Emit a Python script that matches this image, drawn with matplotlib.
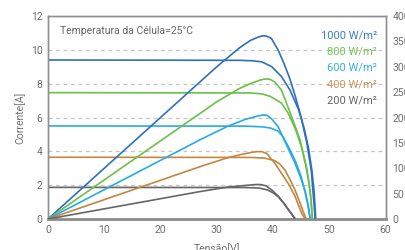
import matplotlib
matplotlib.use("Agg")
import matplotlib.pyplot as plt

plt.rcParams['font.family'] = ['Roboto', 'DejaVu Sans']

# ---- data ----
irradiance_labels = ["1000 W/m²", "800 W/m²", "600 W/m²", "400 W/m²", "200 W/m²"]

# I-V curves (V, A)
iv_1000_v = [0, 34, 36.5, 38, 39.75, 41.5, 43, 44.5, 45.5, 46.3, 46.9, 47.3, 47.6]
iv_1000_i = [9.4, 9.38, 9.35, 9.29, 9.01, 8.42, 7.63, 6.5, 5.4, 4.2, 2.9, 1.6, 0]
iv_800_v = [0, 36, 38, 39.5, 41.5, 42.7, 44, 45, 45.8, 46.4, 46.8, 47.0]
iv_800_i = [7.47, 7.45, 7.4, 7.25, 6.85, 6.25, 5.3, 4.3, 3.2, 2.1, 1.0, 0]
iv_600_v = [0, 35, 38, 39.5, 40.9, 41.8, 42.7, 44, 45, 45.7, 46.2, 46.6]
iv_600_i = [5.5, 5.49, 5.45, 5.38, 5.2, 4.85, 4.3, 3.4, 2.5, 1.6, 0.8, 0]
iv_400_v = [0, 36, 38.5, 40.3, 41.2, 42.1, 43.0, 43.9, 44.8, 45.4, 45.9]
iv_400_i = [3.65, 3.64, 3.6, 3.45, 3.25, 2.9, 2.35, 1.72, 0.95, 0.4, 0]
iv_200_v = [0, 35, 37.5, 39, 40, 40.9, 42, 42.7, 43.5, 44.0]
iv_200_i = [1.87, 1.86, 1.83, 1.72, 1.55, 1.32, 0.9, 0.55, 0.2, 0]

# P-V curves (V, W)
pv_1000_v = [0, 30, 34, 36, 37.5, 38.2, 38.8, 39.7, 40.9, 42, 43, 44, 45, 46, 46.8, 47.5]
pv_1000_p = [0, 300, 337, 352, 359, 361, 360.5, 356, 333, 305, 276, 240, 200, 150, 95, 0]
pv_800_v = [0, 30, 34, 36, 37.8, 38.6, 39.4, 40.3, 41.5, 43.3, 44.8, 46, 46.6, 47.0]
pv_800_p = [0, 231, 257, 267, 274, 276, 275.5, 270, 254, 202, 156, 100, 55, 0]
pv_600_v = [0, 27, 32, 35, 37.3, 38.2, 38.9, 39.7, 40.9, 42.4, 43.7, 44.8, 45.7, 46.3, 46.6]
pv_600_p = [0, 156, 183, 196, 203, 205, 204.5, 198, 182, 146, 115, 85, 55, 25, 0]
pv_400_v = [0, 27, 32, 34.5, 36.3, 37.4, 38.1, 38.9, 40.3, 41.5, 42.7, 43.9, 45.1, 45.7]
pv_400_p = [0, 103, 121, 127.5, 131.5, 133, 132.5, 129, 110, 90, 70, 45, 11, 0]
pv_200_v = [0, 27, 32, 35, 36.5, 37.2, 37.9, 38.7, 39.8, 41, 42.1, 43.2, 43.9]
pv_200_p = [0, 54, 63, 66, 67.5, 68, 67.7, 65.5, 57, 44, 28, 12, 0]

left_ticks = [0, 2, 4, 6, 8, 10, 12]
right_ticks = [0, 50, 100, 150, 200, 250, 300, 350, 400]
x_ticks = [0, 10, 20, 30, 40, 50, 60]

line_colors = ["#2f6fbf", "#6cc04a", "#29abe2", "#c28740", "#666666"]
text_colors = ["#3d7cc9", "#78c454", "#35b0e6", "#c8965a", "#666666"]

# ---- figure ----
fig = plt.figure(figsize=(4.05, 2.5), dpi=100)
ax = fig.add_axes([0.1185, 0.124, 0.8335, 0.812])
ax2 = ax.twinx()

ivs = [(iv_1000_v, iv_1000_i), (iv_800_v, iv_800_i), (iv_600_v, iv_600_i),
       (iv_400_v, iv_400_i), (iv_200_v, iv_200_i)]
pvs = [(pv_1000_v, pv_1000_p), (pv_800_v, pv_800_p), (pv_600_v, pv_600_p),
       (pv_400_v, pv_400_p), (pv_200_v, pv_200_p)]

for (v, i), c in zip(ivs, line_colors):
    ax.plot(v, i, color=c, lw=1.2, solid_capstyle='butt', zorder=3)
for (v, p), c in zip(pvs, line_colors):
    ax2.plot(v, p, color=c, lw=1.2, solid_capstyle='butt', zorder=3)

ax.set_xlim(0, 60)
ax.set_ylim(0, 12)
ax2.set_ylim(0, 400)
ax.set_xticks(x_ticks)
ax.set_yticks(left_ticks)
ax2.set_yticks(right_ticks)

grid_c = "#c4c4c4"
for y in left_ticks[1:-1]:
    ax.axhline(y, color=grid_c, lw=0.9, ls=(0, (3, 3)), zorder=1)

spine_c = "#8f8f8f"
for a in (ax, ax2):
    for s in a.spines.values():
        s.set_color(spine_c)
        s.set_linewidth(1.0)
    a.spines['bottom'].set_linewidth(1.8)
    a.tick_params(length=0, labelsize=7.5, labelcolor="#6e6e6e")
ax.tick_params(axis='y', pad=4)
ax.tick_params(axis='x', pad=4)
ax2.tick_params(axis='y', pad=5)

ax.set_xlabel("Tensão[V]", fontsize=7.5, color="#6e6e6e", labelpad=6)
ax.set_ylabel("Corrente[A]", fontsize=7.5, color="#6e6e6e", labelpad=4)

ax.text(0.037, 0.925, "Temperatura da Célula=25°C", transform=ax.transAxes,
        fontsize=7.5, color="#666666", ha='left', va='center')

legend_y = [0.905, 0.823, 0.745, 0.664, 0.585]
for lab, c, yy in zip(irradiance_labels, text_colors, legend_y):
    ax.text(0.975, yy, lab, transform=ax.transAxes, fontsize=8, color=c,
            ha='right', va='center')

fig.savefig("out.png", dpi=100)
